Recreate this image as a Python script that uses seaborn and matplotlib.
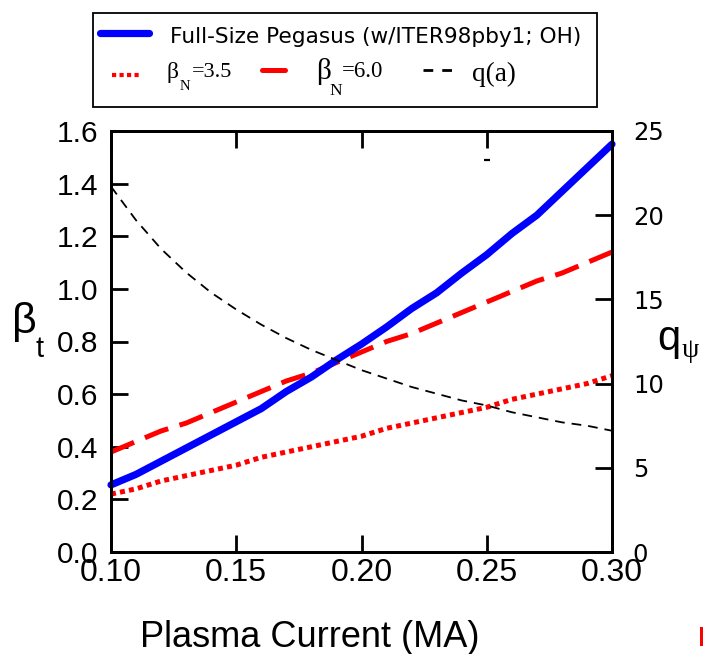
import matplotlib
matplotlib.use("Agg")
import matplotlib.pyplot as plt
from matplotlib.lines import Line2D
from matplotlib.patches import Rectangle
import seaborn as sns
import numpy as np

# ---------------- data ----------------
current_ma = [0.10, 0.11, 0.12, 0.13, 0.14, 0.15, 0.16, 0.17, 0.18, 0.19, 0.20,
              0.21, 0.22, 0.23, 0.24, 0.25, 0.26, 0.27, 0.28, 0.29, 0.30]
beta_pegasus = [0.255, 0.295, 0.345, 0.395, 0.445, 0.495, 0.545, 0.61, 0.665, 0.73, 0.79,
                0.855, 0.925, 0.985, 1.06, 1.13, 1.21, 1.28, 1.37, 1.46, 1.55]
beta_n35 = [0.22, 0.24, 0.27, 0.29, 0.31, 0.33, 0.36, 0.38, 0.40, 0.42, 0.44,
            0.47, 0.49, 0.51, 0.53, 0.55, 0.58, 0.60, 0.62, 0.64, 0.67]
beta_n60 = [0.38, 0.42, 0.46, 0.49, 0.53, 0.57, 0.61, 0.65, 0.68, 0.72, 0.76,
            0.80, 0.83, 0.87, 0.91, 0.95, 0.99, 1.03, 1.06, 1.10, 1.14]
q_a = [21.7, 19.7, 18.0, 16.6, 15.4, 14.4, 13.5, 12.7, 12.0, 11.4, 10.8,
       10.3, 9.8, 9.4, 9.0, 8.7, 8.3, 8.0, 7.7, 7.5, 7.2]
stray_x = [0.25]
stray_y = [1.49]

x_ticks = [0.10, 0.15, 0.20, 0.25, 0.30]
y_ticks = [0.0, 0.2, 0.4, 0.6, 0.8, 1.0, 1.2, 1.4, 1.6]
q_ticks = [0, 5, 10, 15, 20, 25]

legend_main = "Full-Size Pegasus (w/ITER98pby1; OH)"
xlabel = "Plasma Current (MA)"

# ---------------- style ----------------
sns.set_style("ticks")
plt.rcParams["font.family"] = ["Liberation Sans", "DejaVu Sans"]
plt.rcParams["lines.scale_dashes"] = False
plt.rcParams["axes.linewidth"] = 2.0
plt.rcParams["text.color"] = "black"
plt.rcParams["axes.labelcolor"] = "black"
plt.rcParams["xtick.color"] = "black"
plt.rcParams["ytick.color"] = "black"

W, H = 703, 654
fig = plt.figure(figsize=(W / 100, H / 100), dpi=100)
fig.patch.set_facecolor("white")


def fx(x):
    return x / W


def fy(y):
    return 1 - y / H


ax_l, ax_r, ax_t, ax_b = 111, 612, 131, 552
ax = fig.add_axes([fx(ax_l), fy(ax_b), (ax_r - ax_l) / W, (ax_b - ax_t) / H])
ax2 = ax.twinx()

BLUE = "#0000ff"
RED = "#ff0000"

sns.lineplot(x=current_ma, y=beta_n35, ax=ax, color=RED, linewidth=3.6)
ax.lines[-1].set_dashes((3.6, 3.0))
sns.lineplot(x=current_ma, y=beta_n60, ax=ax, color=RED, linewidth=3.6)
ax.lines[-1].set_dashes((18, 8.5))
sns.lineplot(x=current_ma, y=beta_pegasus, ax=ax, color=BLUE, linewidth=5.2)
ax.lines[-1].set_clip_on(False)
ax.plot(stray_x, stray_y, marker="_", ms=4, mew=1.6, color="black", ls="none")

sns.lineplot(x=current_ma, y=q_a, ax=ax2, color="black", linewidth=1.3)
ax2.lines[-1].set_dashes((7, 5))

ax.set_xlim(0.10, 0.30)
ax.set_ylim(0, 1.6)
ax2.set_ylim(0, 25)

ax.set_xticks(x_ticks)
ax.set_xticklabels([f"{v:.2f}" for v in x_ticks])
ax.set_yticks(y_ticks)
ax.set_yticklabels([f"{v:.1f}" for v in y_ticks])
ax2.set_yticks(q_ticks)
ax2.set_yticklabels([str(v) for v in q_ticks])

ax.tick_params(axis="x", which="both", direction="in", top=True, bottom=True,
               length=12.5, width=2, pad=4, labelsize=23, colors="black")
ax.tick_params(axis="y", direction="in", left=True, right=False,
               length=12.5, width=2, pad=9, labelsize=21.5, colors="black")
ax2.tick_params(axis="y", direction="in", right=True, left=False,
                length=12.5, width=2, pad=15, labelsize=17.5, colors="black")
for lab in ax2.get_yticklabels():
    lab.set_fontfamily("DejaVu Sans")

for a in (ax, ax2):
    for s in a.spines.values():
        s.set_visible(True)
        s.set_color("black")
        s.set_linewidth(2.0)
ax.set_xlabel("")
ax.set_ylabel("")
ax2.set_ylabel("")

# ---------------- axis titles ----------------
fig.text(fx(310), fy(647), xlabel, fontsize=26, ha="center", va="baseline",
         family="Liberation Sans")
fig.text(fx(12), fy(333), "β", fontsize=31, ha="left", va="baseline",
         family="Liberation Sans")
fig.text(fx(36), fy(357), "t", fontsize=21, ha="left", va="baseline",
         family="Liberation Sans")
fig.text(fx(657), fy(350), "q", fontsize=30, ha="left", va="baseline",
         family="Liberation Sans")
fig.text(fx(682), fy(357), "ψ", fontsize=20, ha="left", va="baseline",
         family=["Liberation Serif", "DejaVu Serif"])

# ---------------- legend ----------------
fig.add_artist(Rectangle((fx(93), fy(107)), (597 - 93) / W, (107 - 13) / H,
                         fill=False, ec="black", lw=1.3, transform=fig.transFigure))
fig.add_artist(Line2D([fx(100), fx(149)], [fy(33), fy(33)], color=BLUE, lw=5.2,
                      transform=fig.transFigure))
fig.text(fx(170), fy(43), legend_main, fontsize=15.6, ha="left", va="baseline",
         family="DejaVu Sans")

l1 = Line2D([fx(112), fx(142)], [fy(75), fy(75)], color=RED, lw=3.0,
            transform=fig.transFigure)
l1.set_dashes((3.0, 2.4))
fig.add_artist(l1)
fig.text(fx(167), fy(78), "β", fontsize=17, ha="left", va="baseline", family="Liberation Serif")
fig.text(fx(180), fy(90), "N", fontsize=10.5, ha="left", va="baseline", family="Liberation Serif")
fig.text(fx(192), fy(77), "=3.5", fontsize=16, ha="left", va="baseline", family="Liberation Serif")

fig.add_artist(Line2D([fx(262), fx(285)], [fy(70), fy(70)], color=RED, lw=3.6,
                      transform=fig.transFigure))
fig.text(fx(316), fy(79), "β", fontsize=21, ha="left", va="baseline", family="Liberation Serif")
fig.text(fx(329), fy(95), "N", fontsize=12.5, ha="left", va="baseline", family="Liberation Serif")
fig.text(fx(342), fy(77), "=6.0", fontsize=16.5, ha="left", va="baseline", family="Liberation Serif")

l3 = Line2D([fx(423), fx(452)], [fy(70), fy(70)], color="black", lw=2.0,
            transform=fig.transFigure)
l3.set_dashes((7, 6.5))
fig.add_artist(l3)
fig.text(fx(472), fy(81), "q(a)", fontsize=19.5, ha="left", va="baseline", family="Liberation Serif")

# stray red mark at bottom-right edge
fig.add_artist(Rectangle((fx(700), fy(646)), 3 / W, 19 / H, color=RED, lw=0,
                         transform=fig.transFigure))

fig.savefig("out.png", dpi=100)
